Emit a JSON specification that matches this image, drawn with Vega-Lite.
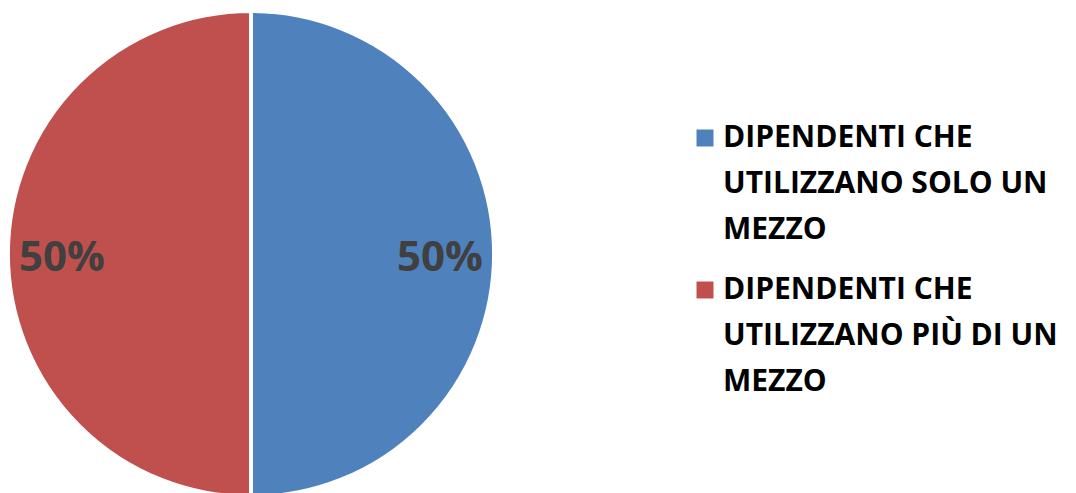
{
  "$schema": "https://vega.github.io/schema/vega-lite/v6.json",
  "width": 482,
  "height": 482,
  "autosize": {"type": "none"},
  "padding": {"left": 10, "top": 13, "right": 584, "bottom": 0},
  "background": "white",
  "view": {"stroke": null},
  "data": {
    "values": [
      {"ord": 1, "categoria": "DIPENDENTI CHE|UTILIZZANO SOLO UN|MEZZO", "valore": 50, "label": "50%"},
      {"ord": 2, "categoria": "DIPENDENTI CHE|UTILIZZANO PIÙ DI UN|MEZZO", "valore": 50, "label": "50%"}
    ]
  },
  "encoding": {
    "theta": {"field": "valore", "type": "quantitative", "stack": true},
    "order": {"field": "ord", "type": "quantitative"}
  },
  "layer": [
    {
      "mark": {"type": "arc", "stroke": "white", "strokeWidth": 4, "outerRadius": 243},
      "encoding": {
        "color": {
          "field": "categoria",
          "type": "nominal",
          "sort": {"field": "ord"},
          "scale": {"range": ["#4F81BD", "#C0504D"]},
          "legend": {
            "title": null,
            "orient": "none",
            "legendX": 680,
            "legendY": 110,
            "symbolType": "square",
            "symbolSize": 289,
            "symbolStrokeWidth": 0,
            "labelExpr": "split(datum.label, '|')",
            "labelFont": "Open Sans",
            "labelFontWeight": "bold",
            "labelFontSize": 30,
            "labelColor": "#000000",
            "labelLimit": 0,
            "labelOffset": 3,
            "labelBaseline": "middle",
            "rowPadding": 30
          }
        }
      }
    },
    {
      "mark": {"type": "text", "radius": 189, "font": "Open Sans", "fontWeight": "bold", "fontSize": 42, "color": "#404040", "dy": 4},
      "encoding": {"text": {"field": "label"}}
    }
  ],
  "config": {
    "style": {"guide-label": {"lineHeight": 46}}
  }
}
